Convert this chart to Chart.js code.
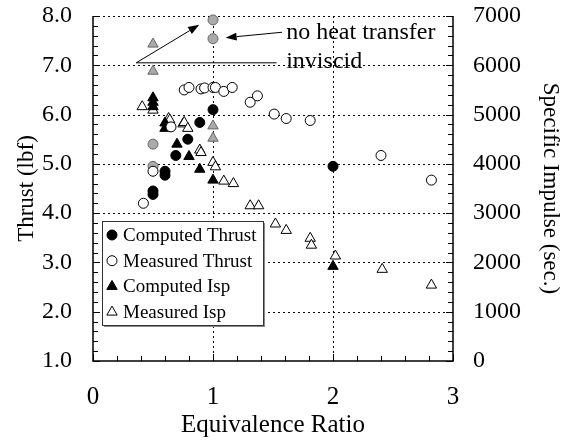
<!DOCTYPE html>
<html>
<head>
<meta charset="utf-8">
<script src="https://cdn.jsdelivr.net/npm/chart.js@4/dist/chart.umd.min.js"></script>
<style>
  html, body { margin: 0; padding: 0; background: #fff; }
  #wrap { width: 568px; height: 440px; position: relative; }
</style>
</head>
<body>
<div id="wrap"><canvas id="grafico"></canvas></div>
<script>
// equivalence ratio (x) and thrust (lbf) / Isp (sec)
const compThrustPhi = [0.5, 0.5, 0.6, 0.6, 0.69, 0.79, 0.89, 1.0, 2.0];
const compThrustLbf = [4.45, 4.38, 4.85, 4.77, 5.17, 5.5, 5.84, 6.1, 4.95];

const measThrustPhi = [0.42, 0.5, 0.65, 0.76, 0.8, 0.9, 0.93, 1.0, 1.02, 1.09, 1.16, 1.31, 1.37, 1.51, 1.61, 1.81, 2.4, 2.82];
const measThrustLbf = [4.2, 4.85, 5.75, 6.5, 6.55, 6.52, 6.54, 6.55, 6.55, 6.47, 6.55, 6.25, 6.38, 6.01, 5.92, 5.88, 5.17, 4.67];

const compIspPhi = [0.5, 0.5, 0.5, 0.6, 0.6, 0.7, 0.8, 0.89, 1.0, 2.0];
const compIspSec = [5340, 5250, 5160, 4830, 4720, 4400, 4150, 3890, 3670, 1920];

const measIspPhi = [0.41, 0.5, 0.63, 0.64, 0.75, 0.76, 0.79, 0.89, 0.9, 1.0, 1.02, 1.09, 1.17, 1.31, 1.38, 1.52, 1.61, 1.81, 1.82, 2.02, 2.41, 2.82];
const measIspSec = [5160, 5090, 4920, 4890, 4810, 4840, 4720, 4280, 4230, 4030, 3940, 3650, 3600, 3150, 3150, 2780, 2650, 2490, 2350, 2130, 1860, 1540];

// gray points: no heat transfer / inviscid calculations
const idealThrustPhi = [0.5, 0.5, 1.0, 1.0];
const idealThrustLbf = [5.4, 4.95, 7.92, 7.54];
const idealIspPhi = [0.5, 0.5, 1.0, 1.0];
const idealIspSec = [6430, 5880, 4770, 4520];

const labelst = ["Computed Thrust", "Measured Thrust", "Computed Isp", "Measured Isp"];
const thrustTicks = [1, 2, 3, 4, 5, 6, 7, 8];
const ispTicks = [0, 1000, 2000, 3000, 4000, 5000, 6000, 7000];
const phiTicks = [0, 1, 2, 3];

const fuente = "'Liberation Serif', 'Times New Roman', serif";

function pares(xs, ys) {
  return xs.map((x, i) => ({ x: x, y: ys[i] }));
}

function serie(label, xs, ys, eje, estilo, fondo, borde, radio) {
  return {
    label: label,
    data: pares(xs, ys),
    yAxisID: eje,
    pointStyle: estilo,
    pointRadius: radio,
    pointHoverRadius: radio,
    pointBackgroundColor: fondo,
    pointBorderColor: borde,
    pointBorderWidth: 1,
    showLine: false,
    clip: false,
  };
}

function sinRelleno(s) {
  s.paddingTop = 0;
  s.paddingBottom = 0;
  s.paddingLeft = 0;
  s.paddingRight = 0;
}

// grid, axes and inward tick marks
const ejesPlugin = {
  id: "ejes",
  beforeDatasetsDraw(chart) {
    const { ctx, chartArea: a, scales } = chart;
    const x = scales.x, y = scales.y;
    ctx.save();
    ctx.strokeStyle = "#000";
    ctx.lineWidth = 1;
    ctx.setLineDash([2, 3]);
    [1, 2].forEach((v) => {
      const px = Math.round(x.getPixelForValue(v)) + 0.5;
      ctx.beginPath(); ctx.moveTo(px, a.top); ctx.lineTo(px, a.bottom); ctx.stroke();
    });
    [2, 3, 4, 5, 6, 7, 8].forEach((v) => {
      const py = Math.round(y.getPixelForValue(v)) + 0.5;
      ctx.beginPath(); ctx.moveTo(a.left, py); ctx.lineTo(a.right, py); ctx.stroke();
    });
    ctx.setLineDash([]);
    ctx.lineWidth = 1.5;
    ctx.beginPath();
    ctx.moveTo(a.left, a.top); ctx.lineTo(a.left, a.bottom);
    ctx.lineTo(a.right, a.bottom); ctx.lineTo(a.right, a.top);
    ctx.stroke();
    ctx.lineWidth = 1;
    for (let i = 0; i <= 35; i++) {
      const v = 1 + i * 0.2;
      const py = Math.round(y.getPixelForValue(v)) + 0.5;
      const len = i % 5 === 0 ? 7 : 5;
      ctx.beginPath(); ctx.moveTo(a.left, py); ctx.lineTo(a.left + len, py); ctx.stroke();
      ctx.beginPath(); ctx.moveTo(a.right, py); ctx.lineTo(a.right - len, py); ctx.stroke();
    }
    for (let i = 0; i <= 15; i++) {
      const v = i * 0.2;
      const px = Math.round(x.getPixelForValue(v)) + 0.5;
      const len = i % 5 === 0 ? 7 : 5;
      ctx.beginPath(); ctx.moveTo(px, a.bottom); ctx.lineTo(px, a.bottom - len); ctx.stroke();
    }
    ctx.restore();
  },
};

function flecha(ctx, x0, y0, x1, y1) {
  const ang = Math.atan2(y1 - y0, x1 - x0);
  const L = 11, W = 4;
  ctx.beginPath();
  ctx.moveTo(x0, y0);
  ctx.lineTo(x1 - Math.cos(ang) * L, y1 - Math.sin(ang) * L);
  ctx.stroke();
  ctx.beginPath();
  ctx.moveTo(x1, y1);
  ctx.lineTo(x1 - Math.cos(ang) * L - Math.sin(ang) * W, y1 - Math.sin(ang) * L + Math.cos(ang) * W);
  ctx.lineTo(x1 - Math.cos(ang) * L + Math.sin(ang) * W, y1 - Math.sin(ang) * L - Math.cos(ang) * W);
  ctx.closePath();
  ctx.fill();
}

// annotations and boxed legend
const notasPlugin = {
  id: "notas",
  afterDatasetsDraw(chart) {
    const { ctx, scales } = chart;
    const X = (v) => scales.x.getPixelForValue(v);
    const Y = (v) => scales.y.getPixelForValue(v);
    ctx.save();
    ctx.fillStyle = "#000";
    ctx.strokeStyle = "#000";
    ctx.lineWidth = 1;
    ctx.font = "24px " + fuente;
    ctx.textBaseline = "middle";
    ctx.textAlign = "left";
    ctx.fillText("no heat transfer", X(1.61), Y(7.67));
    ctx.fillText("inviscid", X(1.61), Y(7.07));
    flecha(ctx, X(1.575), Y(7.67), X(1.105), Y(7.56));
    ctx.beginPath();
    ctx.moveTo(X(1.53), Y(7.05));
    ctx.lineTo(X(0.36), Y(7.05));
    ctx.stroke();
    flecha(ctx, X(0.36), Y(7.05), X(0.885), Y(7.82));

    // legend box
    const bx = 102, by = 221, bw = 161, bh = 104;
    ctx.fillStyle = "#fff";
    ctx.fillRect(bx, by, bw, bh);
    ctx.fillStyle = "#888";
    ctx.fillRect(bx + 2, by + bh, bw, 2);
    ctx.fillRect(bx + bw, by + 2, 2, bh);
    ctx.strokeStyle = "#333";
    ctx.strokeRect(bx + 0.5, by + 0.5, bw, bh);
    ctx.font = "19px " + fuente;
    chart.data.datasets.slice(0, 4).forEach((ds, i) => {
      const yy = by + 14 + i * 25.7;
      ctx.fillStyle = ds.pointBackgroundColor;
      ctx.strokeStyle = ds.pointBorderColor;
      ctx.lineWidth = 1;
      Chart.helpers.drawPoint(ctx, {
        pointStyle: ds.pointStyle,
        radius: ds.pointStyle === "triangle" ? 6 : 5,
        rotation: 0,
        borderWidth: 1,
      }, bx + 10, yy);
      ctx.fillStyle = "#000";
      ctx.fillText(ds.label, bx + 21, yy + 1);
    });
    ctx.restore();
  },
};

function grafico_empuje() {
  const ctx = document.getElementById("grafico");
  new Chart(ctx, {
    type: "scatter",
    data: {
      datasets: [
        serie(labelst[0], compThrustPhi, compThrustLbf, "y", "circle", "#000", "#000", 5),
        serie(labelst[1], measThrustPhi, measThrustLbf, "y", "circle", "#fff", "#000", 5),
        serie(labelst[2], compIspPhi, compIspSec, "y2", "triangle", "#000", "#000", 6),
        serie(labelst[3], measIspPhi, measIspSec, "y2", "triangle", "#fff", "#000", 6),
        serie("ideal thrust", idealThrustPhi, idealThrustLbf, "y", "circle", "#aaa", "#666", 5),
        serie("ideal Isp", idealIspPhi, idealIspSec, "y2", "triangle", "#aaa", "#666", 6),
      ],
    },
    options: {
      responsive: true,
      maintainAspectRatio: false,
      animation: false,
      layout: { padding: { top: 16, left: 0, right: 0, bottom: 0 } },
      plugins: { legend: { display: false }, tooltip: { enabled: false } },
      scales: {
        x: {
          type: "linear",
          min: 0, max: 3,
          afterBuildTicks: (s) => { s.ticks = phiTicks.map((v) => ({ value: v })); },
          afterFit: (s) => { s.height = 79; sinRelleno(s); },
          ticks: { color: "#000", padding: 21, font: { family: fuente, size: 25 }, callback: (v) => String(v) },
          grid: { display: false, drawTicks: false },
          border: { display: false },
          title: { display: true, text: "Equivalence Ratio", color: "#000", padding: { top: 0, bottom: 0 }, font: { family: fuente, size: 25 } },
        },
        y: {
          type: "linear",
          position: "left",
          min: 1, max: 8,
          afterBuildTicks: (s) => { s.ticks = thrustTicks.map((v) => ({ value: v })); },
          afterFit: (s) => { s.width = 93; sinRelleno(s); },
          ticks: { color: "#000", padding: 21, font: { family: fuente, size: 24 }, callback: (v) => v.toFixed(1) },
          grid: { display: false, drawTicks: false },
          border: { display: false },
          title: { display: true, text: "Thrust (lbf)", color: "#000", padding: { top: 13, bottom: 0 }, font: { family: fuente, size: 23 } },
        },
        y2: {
          type: "linear",
          position: "right",
          min: 0, max: 7000,
          afterBuildTicks: (s) => { s.ticks = ispTicks.map((v) => ({ value: v })); },
          afterFit: (s) => { s.width = 115; sinRelleno(s); },
          ticks: { color: "#000", padding: 20, font: { family: fuente, size: 24 }, callback: (v) => String(v) },
          grid: { display: false, drawTicks: false },
          border: { display: false },
          title: { display: true, text: "Specific Impulse (sec.)", color: "#000", padding: { top: 4, bottom: 0 }, font: { family: fuente, size: 23 } },
        },
      },
    },
    plugins: [ejesPlugin, notasPlugin],
  });
}

grafico_empuje();
</script>
</body>
</html>
